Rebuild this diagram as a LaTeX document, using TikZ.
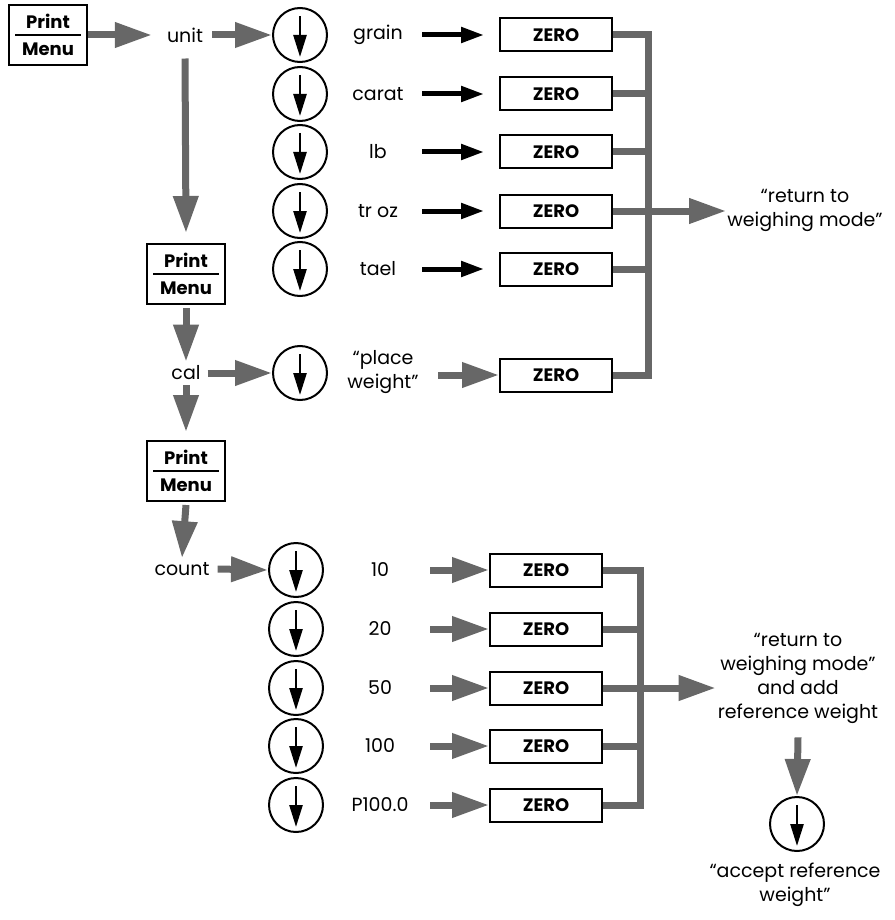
\documentclass[tikz,border=0pt]{standalone}
\usepackage{fontspec}
\setmainfont{Poppins}
\usetikzlibrary{arrows.meta,positioning}
\definecolor{garr}{HTML}{676767}
\newcommand{\labelsize}{\fontsize{19}{24}\selectfont}
\tikzset{
  menukey/.style={draw,line width=2pt,minimum width=78pt,minimum height=60pt,inner sep=0pt},
  zerobox/.style={draw,line width=2pt,minimum width=112pt,minimum height=33pt,inner sep=0pt,
    font=\fontsize{18}{22}\selectfont\bfseries},
  downkey/.style={circle,draw,line width=2pt,minimum size=54pt,inner sep=0pt,
    path picture={\draw[line width=2.5pt,-{Triangle[length=22pt,width=13pt]}]
      ([yshift=19pt]path picture bounding box.center) -- ([yshift=-22pt]path picture bounding box.center);}},
  word/.style={inner sep=2pt,align=center},
  garrow/.style={garr,line width=7pt,-{Triangle[length=37pt,width=24pt]}},
  barrow/.style={line width=5pt,-{Triangle[length=23pt,width=15pt]}},
  bus/.style={garr,line width=7pt}
}
\newcommand{\printmenu}[2]{%
  \node[menukey] (#1) at (#2) {};
  \draw[line width=2pt] ([xshift=7pt]#1.west) -- ([xshift=-7pt]#1.east);
  \node[font=\fontsize{18}{22}\selectfont\bfseries,inner sep=0pt] (#1p) at ([yshift=14pt]#1.center) {Print};
  \node[font=\fontsize{18}{22}\selectfont\bfseries,inner sep=0pt] (#1m) at ([yshift=-14pt]#1.center) {Menu};}

\begin{document}
\begin{tikzpicture}[x=1pt,y=-1pt,font=\labelsize]
  \useasboundingbox (0,0) rectangle (894,920);
  % unit branch
  \printmenu{pm1}{48,35}
  \node[word] (unit) at (185,35) {unit};
  \draw[garrow] (pm1.east) -- ([xshift=-13pt]unit.west);
  \coordinate (bus1) at (648,211);
  \foreach \n/\y/\t in {1/35/grain,2/94/carat,3/152/lb,4/211/tr oz,5/269/tael}
    { \node[downkey] (k\n) at (300,\y) {};
      \node[word,minimum width=88pt] (l\n) at (378,\y) {\t};
      \node[zerobox] (z\n) at (556,\y) {ZERO};
      \draw[barrow] (l\n.east) -- ([xshift=-15pt]z\n.west);
      \draw[bus] (z\n.east) -- (z\n.east -| bus1); }
  \draw[garrow] ([xshift=7pt]unit.east) -- (k1.west);
  % cal branch
  \printmenu{pm2}{186,274}
  \draw[garrow] ([yshift=-14pt]unit.south) -- ([yshift=10pt]pm2.north);
  \node[word] (cal) at (186,373) {cal};
  \draw[garrow] ([yshift=-3pt]pm2.south) -- ([yshift=2pt]cal.north);
  \node[downkey] (kc) at (300,373) {};
  \draw[garrow] ([xshift=5pt]cal.east) -- (kc.west);
  \node[word,minimum width=110pt] (lc) at (383,372) {“place\\weight”};
  \node[zerobox] (zc) at (556,375) {ZERO};
  \draw[garrow] (lc.east |- zc) -- (zc.west);
  \draw[bus] (zc.east) -- (zc.east -| bus1);
  \draw[bus,line cap=rect] (z1.east -| bus1) -- (zc.east -| bus1);
  \node[word,inner sep=1pt] (ret1) at (805,210) {“return to\\weighing mode”};
  \draw[garrow] (bus1) -- (bus1 -| ret1.west);
  % count branch
  \printmenu{pm3}{186,471}
  \draw[garrow] ([yshift=-3pt]cal.south) -- ([yshift=8pt]pm3.north);
  \node[word] (count) at (182,569) {count};
  \draw[garrow] ([yshift=-3pt]pm3.south) -- ([yshift=2pt]count.north);
  \coordinate (bus2) at (640,688);
  \foreach \n/\y/\t in {1/570/10,2/629/20,3/688/50,4/746/100,5/805/P100.0}
    { \node[downkey] (m\n) at (296,\y) {};
      \node[word,minimum width=100pt] (c\n) at (380,\y) {\t};
      \node[zerobox] (y\n) at (546,\y) {ZERO};
      \draw[garrow] (c\n.east) -- (y\n.west);
      \draw[bus] (y\n.east) -- (y\n.east -| bus2); }
  \draw[garrow] ([xshift=6pt]count.east) -- (m1.west);
  \draw[bus,line cap=rect] (y1.east -| bus2) -- (y5.east -| bus2);
  \node[word] (ret2) at (798,678) {“return to\\weighing mode”\\and add\\reference weight};
  \draw[garrow] (bus2) -- (bus2 -| ret2.west);
  \node[downkey] (kf) at (797,824) {};
  \draw[garrow] ([yshift=-12pt]ret2.south) -- (kf.north);
  \node[word] (acc) at (795,885) {“accept reference\\weight”};
\end{tikzpicture}
\end{document}
